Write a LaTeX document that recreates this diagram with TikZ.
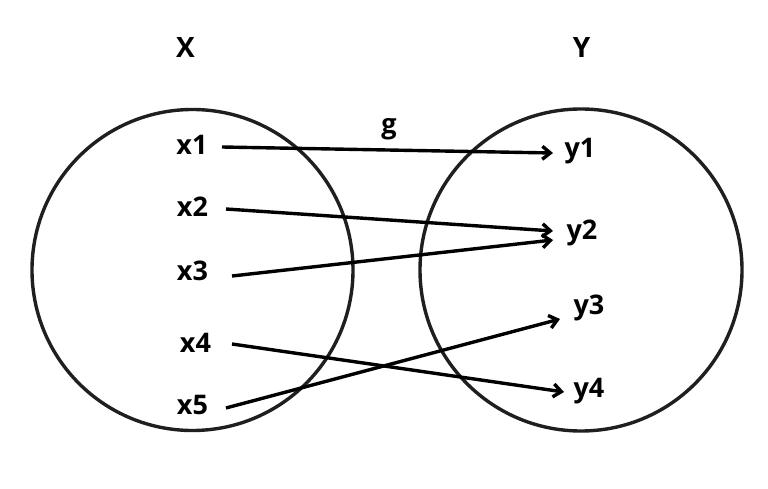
\documentclass[tikz,border=0pt]{standalone}
\usepackage{fontspec}
\setmainfont{Open Sans}
\usetikzlibrary{arrows.meta}
\begin{document}
\begin{tikzpicture}[x=1pt,y=-1pt,
  lbl/.style={font=\fontsize{27}{32}\selectfont\bfseries, inner sep=0pt, anchor=base},
  big/.style={font=\fontsize{28}{33}\selectfont\bfseries, inner sep=0pt, anchor=base},
  setc/.style={draw=black!88, line width=3.4pt},
  map/.style={line width=3.4pt, -{Straight Barb[length=8pt,width=13pt,line width=3.4pt]}}]
\useasboundingbox (0,0) rectangle (768,489);
\fill[white] (0,0) rectangle (768,489);
% sets
\draw[setc] (192.5,270) circle (160.5);
\draw[setc] (581,270) circle (161);
% titles
\node[big] (X) at (185.5,58) {X};
\node[big] (Y) at (581.5,58) {Y};
\node[lbl] (g) at (389,134) {g};
% elements
\node[lbl] (x1) at (192,155) {x1};
\node[lbl] (x2) at (192.5,216) {x2};
\node[lbl] (x3) at (192.5,280) {x3};
\node[lbl] (x4) at (195.5,352) {x4};
\node[lbl] (x5) at (192.5,414) {x5};
\node[lbl] (y1) at (580,158) {y1};
\node[lbl] (y2) at (582,239) {y2};
\node[lbl] (y3) at (589,314) {y3};
\node[lbl] (y4) at (589,397) {y4};
% connector ends
\coordinate (s1) at (222,147);
\coordinate (s2) at (226,209);
\coordinate (s3) at (232,276);
\coordinate (s4) at (232,344);
\coordinate (s5) at (226,408);
\coordinate (e1) at (553,153);
\coordinate (e2a) at (553,231);
\coordinate (e2b) at (553,240);
\coordinate (e3) at (560,319);
\coordinate (e4) at (564,392);
\draw[map] (s1) -- (e1);
\draw[map] (s2) -- (e2a);
\draw[map] (s3) -- (e2b);
\draw[map] (s4) -- (e4);
\draw[map] (s5) -- (e3);
\end{tikzpicture}
\end{document}
